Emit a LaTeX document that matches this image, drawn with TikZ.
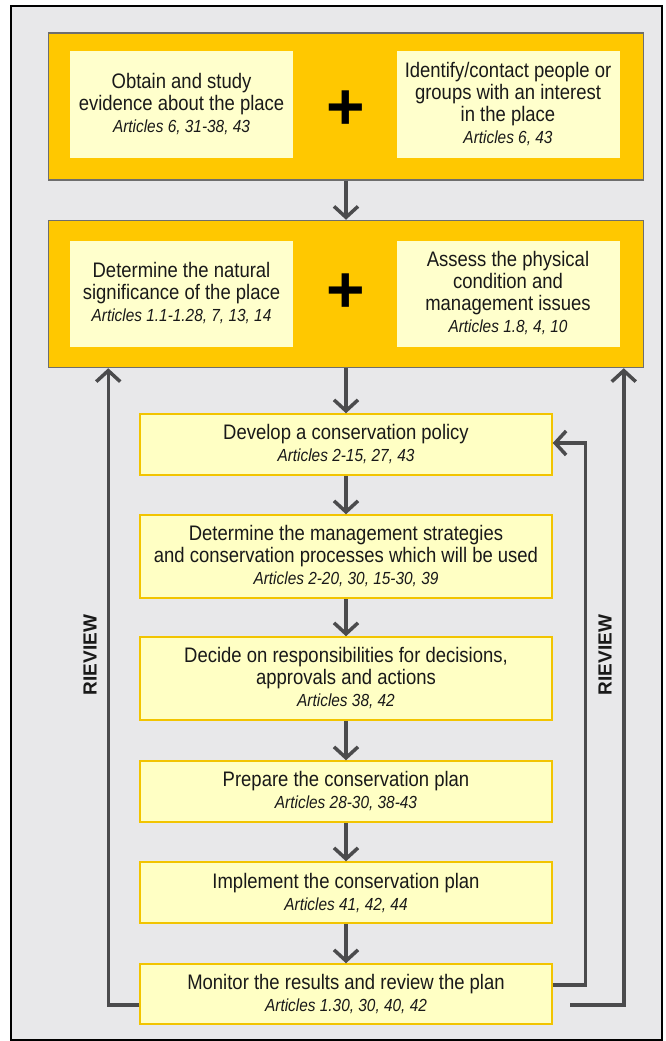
\documentclass[tikz,border=0pt]{standalone}
\usepackage{fontspec}
\setmainfont{Liberation Sans}[FakeStretch=0.88]
\newfontfamily\widefont{Liberation Sans}
\usetikzlibrary{arrows.meta}
\definecolor{bggray}{HTML}{E8E8EA}
\definecolor{gold}{HTML}{FFC800}
\definecolor{pale}{HTML}{FFFFCC}
\definecolor{stepfill}{HTML}{FFFFC4}
\definecolor{stepline}{HTML}{F2C400}
\definecolor{linegray}{HTML}{4B4B4D}
\definecolor{boxline}{HTML}{6E6E6E}
\newcommand{\art}[1]{{\fontsize{17.5}{20}\selectfont\itshape #1}}
\tikzset{
  bigbox/.style={draw=boxline, line width=1.5pt, fill=gold, minimum width=595pt, minimum height=147pt, inner sep=0pt},
  innerbox/.style={fill=pale, minimum width=223pt, minimum height=106pt, align=center, inner sep=2pt,
    font=\fontsize{21}{22}\selectfont, text=black!90},
  stepbox/.style={draw=stepline, line width=1.5pt, fill=stepfill, minimum width=412pt, align=center, inner sep=2pt,
    font=\fontsize{21}{22}\selectfont, text=black!90},
  plussign/.style={font=\widefont\bfseries\fontsize{66}{66}\selectfont, inner sep=0pt},
  arr/.style={draw=linegray, line width=3.5pt, -{Straight Barb[length=11pt,width=24pt]}},
  revlabel/.style={rotate=90, font=\widefont\bfseries\fontsize{19}{19}\selectfont, text=black!90, inner sep=0pt}
}
\begin{document}
\begin{tikzpicture}[x=1pt,y=-1pt]
\useasboundingbox (0,0) rectangle (665,1041);
\draw[line width=2pt, fill=bggray] (11,6) rectangle (662,1040);

% top group
\node[bigbox] (t1) at (346,106.5) {};
\node[innerbox] (a1) at (181.5,104.5) {Obtain and study\\evidence about the place\\\art{Articles 6, 31-38, 43}};
\node[innerbox] (b1) at (508,104.5) {Identify/contact people or\\groups with an interest\\in the place\\\art{Articles 6, 43}};
\node[plussign] (p1) at (346,110) {+};

% second group
\node[bigbox] (t2) at (346,294) {};
\node[innerbox] (a2) at (181.5,293.5) {Determine the natural\\significance of the place\\\art{Articles 1.1-1.28, 7, 13, 14}};
\node[innerbox] (b2) at (508,293.5) {Assess the physical\\condition and\\management issues\\\art{Articles 1.8, 4, 10}};
\node[plussign] (p2) at (346,293) {+};

% steps
\node[stepbox, minimum height=61pt] (s1) at (346,444.5) {Develop a conservation policy\\\art{Articles 2-15, 27, 43}};
\node[stepbox, minimum height=83pt] (s2) at (346,556.5) {Determine the management strategies\\and conservation processes which will be used\\\art{Articles 2-20, 30, 15-30, 39}};
\node[stepbox, minimum height=83pt] (s3) at (346,678.5) {Decide on responsibilities for decisions,\\approvals and actions\\\art{Articles 38, 42}};
\node[stepbox, minimum height=61pt] (s4) at (346,791.5) {Prepare the conservation plan\\\art{Articles 28-30, 38-43}};
\node[stepbox, minimum height=61pt] (s5) at (346,892.5) {Implement the conservation plan\\\art{Articles 41, 42, 44}};
\node[stepbox, minimum height=60pt] (s6) at (346,994) {Monitor the results and review the plan\\\art{Articles 1.30, 30, 40, 42}};

% down arrows
\draw[arr] (t1.south) -- (t2.north);
\draw[arr] (t2.south) -- (s1.north);
\draw[arr] (s1.south) -- (s2.north);
\draw[arr] (s2.south) -- (s3.north);
\draw[arr] (s3.south) -- (s4.north);
\draw[arr] (s4.south) -- (s5.north);
\draw[arr] (s5.south) -- (s6.north);

% review loops
\coordinate (ro) at (570,1005);
\draw[arr] ([yshift=-11pt]s6.west) -| ([xshift=60.5pt]t2.south west);
\draw[arr] (ro) -| ([xshift=-20.5pt]t2.south east);
\draw[arr] ([yshift=9pt]s6.east) -- ++(32.5,0) |- ([yshift=1.5pt]s1.east);

\node[revlabel] (r1) at (90,655) {RIEVIEW};
\node[revlabel] (r2) at (605,655) {RIEVIEW};
\end{tikzpicture}
\end{document}
